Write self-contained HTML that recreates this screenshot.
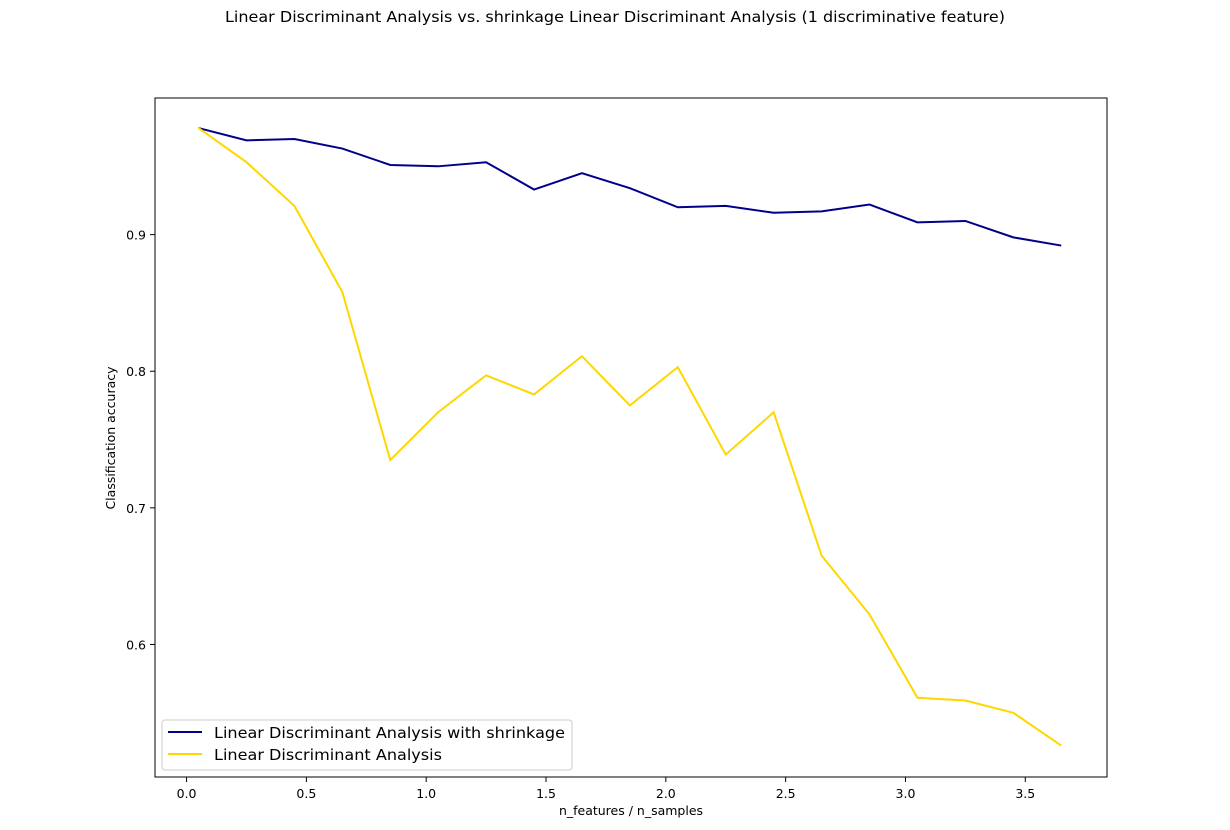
<!DOCTYPE html>
<html><head><meta charset="utf-8"><style>
html,body{margin:0;padding:0;background:#fff;}
svg text{font-family:"DejaVu Sans","Liberation Sans",sans-serif;fill:#000;}
</style></head><body>
<svg width="1230" height="825" viewBox="0 0 1230 825">
<rect x="0" y="0" width="1230" height="825" fill="#fff"/>
<text x="615" y="22" text-anchor="middle" font-size="15.5" textLength="780" lengthAdjust="spacingAndGlyphs">Linear Discriminant Analysis vs. shrinkage Linear Discriminant Analysis (1 discriminative feature)</text>
<g id="axes"></g>
<g id="plot"></g>
<rect x="155" y="98" width="952" height="679" fill="none" stroke="#000" stroke-width="1"/>
<text x="631" y="815" text-anchor="middle" font-size="12.5">n_features / n_samples</text>
<text transform="translate(115,438) rotate(-90)" text-anchor="middle" font-size="12.5">Classification accuracy</text>
<g>
<rect x="162" y="720" width="410" height="50" rx="3" fill="#fff" fill-opacity="0.8" stroke="#ccc"/>
<line x1="168" y1="732" x2="202" y2="732" stroke="#00008b" stroke-width="2"/>
<text x="214" y="738" font-size="15" textLength="351" lengthAdjust="spacingAndGlyphs">Linear Discriminant Analysis with shrinkage</text>
<line x1="168" y1="754" x2="202" y2="754" stroke="#ffd700" stroke-width="2"/>
<text x="214" y="760" font-size="15" textLength="228" lengthAdjust="spacingAndGlyphs">Linear Discriminant Analysis</text>
</g>
</svg>
<script>
const xValues=[0.05,0.25,0.45,0.65,0.85,1.05,1.25,1.45,1.65,1.85,2.05,2.25,2.45,2.65,2.85,3.05,3.25,3.45,3.65];
const shrinkageAcc=[0.978,0.969,0.970,0.963,0.951,0.950,0.953,0.933,0.945,0.934,0.920,0.921,0.916,0.917,0.922,0.909,0.910,0.898,0.892];
const ldaAcc=[0.978,0.953,0.921,0.858,0.735,0.770,0.797,0.783,0.811,0.775,0.803,0.739,0.770,0.665,0.622,0.561,0.559,0.550,0.526];
const xTicks=[0.0,0.5,1.0,1.5,2.0,2.5,3.0,3.5];
const yTicks=[0.6,0.7,0.8,0.9];
const NS="http://www.w3.org/2000/svg";
const X0=155,X1=1107,Y0=777,Y1=98,xmin=-0.1317,xmax=3.841,ymin=0.503,ymax=1.0;
function sx(v){return X0+(v-xmin)/(xmax-xmin)*(X1-X0);}
function sy(v){return Y0-(v-ymin)/(ymax-ymin)*(Y0-Y1);}
const axes=document.getElementById('axes'),plot=document.getElementById('plot');
xTicks.forEach(t=>{
 const l=document.createElementNS(NS,'line');
 l.setAttribute('x1',sx(t));l.setAttribute('x2',sx(t));l.setAttribute('y1',Y0);l.setAttribute('y2',Y0+5);l.setAttribute('stroke','#000');
 
 
 axes.appendChild(l);
 const tx=document.createElementNS(NS,'text');
 tx.setAttribute('x',sx(t));tx.setAttribute('y',Y0+21);tx.setAttribute('text-anchor','middle');tx.setAttribute('font-size','12.5');
 tx.textContent=t.toFixed(1);
 
 
 axes.appendChild(tx);
});
yTicks.forEach(t=>{
 const l=document.createElementNS(NS,'line');
 l.setAttribute('x1',X0-5);l.setAttribute('x2',X0);l.setAttribute('y1',sy(t));l.setAttribute('y2',sy(t));l.setAttribute('stroke','#000');
 
 
 axes.appendChild(l);
 const tx=document.createElementNS(NS,'text');
 tx.setAttribute('x',X0-9);tx.setAttribute('y',sy(t)+5);tx.setAttribute('text-anchor','end');tx.setAttribute('font-size','12.5');
 tx.textContent=t.toFixed(1);
 
 
 axes.appendChild(tx);
});
function line(vals,color,name){
 const p=document.createElementNS(NS,'polyline');
 p.setAttribute('points',vals.map((v,i)=>sx(xValues[i])+','+sy(v)).join(' '));
 p.setAttribute('fill','none');p.setAttribute('stroke',color);p.setAttribute('stroke-width','2');
 
 
 plot.appendChild(p);
}
line(shrinkageAcc,'#00008b','series-lda-shrinkage');
line(ldaAcc,'#ffd700','series-lda');
</script>
</body></html>
